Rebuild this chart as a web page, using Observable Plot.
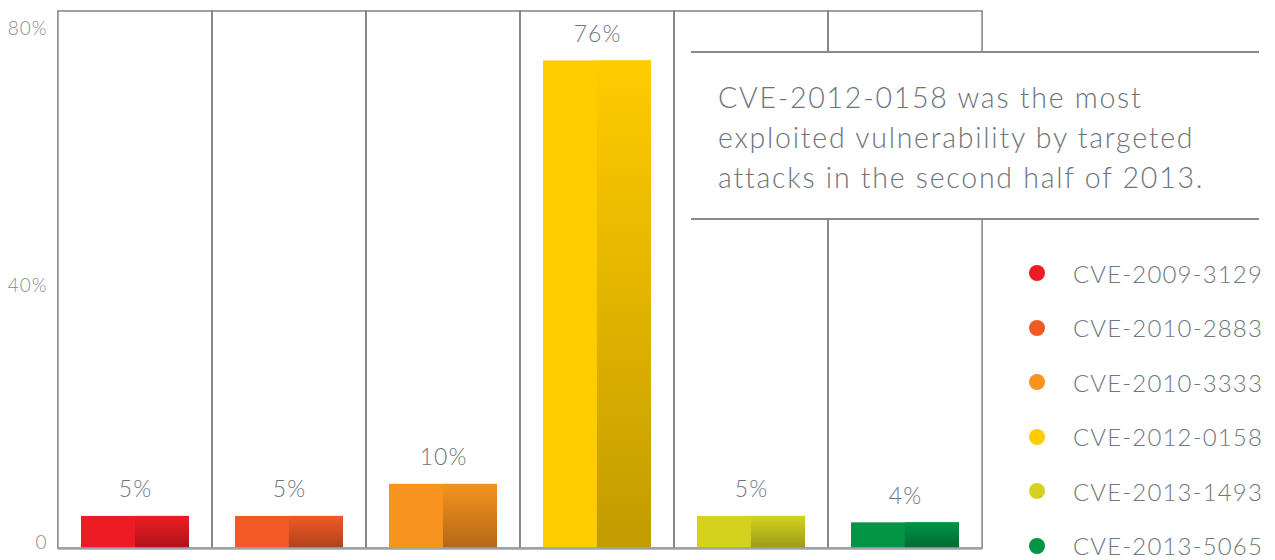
<!DOCTYPE html>
<html>
<head>
<meta charset="utf-8">
<script src="https://cdn.jsdelivr.net/npm/d3@7"></script>
<script src="https://cdn.jsdelivr.net/npm/@observablehq/plot@0.6"></script>
<style>
  html, body { margin: 0; padding: 0; background: #fff; }
  #wrap { position: relative; width: 1275px; height: 560px; font-family: Lato, "Open Sans", sans-serif; font-weight: 300; color: #6d747b; }
  #wrap svg text { letter-spacing: 1px; }
  #note { position: absolute; left: 691px; top: 51px; width: 568px; height: 169px; box-sizing: border-box;
          background: #fff; border-top: 2px solid #858b91; border-bottom: 2px solid #858b91;
          padding: 24px 0 0 27px; font-size: 28.5px; line-height: 40px; letter-spacing: 1.75px; color: #6d747b; white-space: nowrap; }
  #legend { position: absolute; left: 1029px; top: 246px; }
  .item { height: 54.5px; display: flex; align-items: center; font-size: 24px; letter-spacing: 1.15px; color: #6f777e; white-space: nowrap; }
  .dot { width: 16px; height: 16px; border-radius: 50%; margin-right: 28px; flex: none; }
</style>
</head>
<body>
<div id="wrap"></div>
<script>
// ---- data ----
const cves = ["CVE-2009-3129", "CVE-2010-2883", "CVE-2010-3333", "CVE-2012-0158", "CVE-2013-1493", "CVE-2013-5065"];
const values = [5, 5, 10, 76, 5, 4];
const baseColors = ["#ed1c24", "#f15a24", "#f7931e", "#ffcc00", "#d4d21f", "#009444"];
const darkColors = ["#ae121b", "#b1411c", "#b46718", "#c39b00", "#9c9a18", "#006a32"];
const yTicks = [0, 40, 80];
const yTickLabels = ["0", "40%", "80%"];
const noteText = ["CVE-2012-0158 was the most", "exploited vulnerability by targeted", "attacks in the second half of 2013."];

const data = cves.map((c, i) => ({cve: c, value: values[i], base: baseColors[i], grad: `url(#grad-${i})`}));

// ---- layout ----
const W = 1275, H = 560;
const mL = 58, mR = 293, mT = 11, mB = 12;
const yMax = 83.7;
const pIn = 0.3, pOut = 0.15;
const step = (W - mL - mR) / cves.length;
const bw = step * (1 - pIn);
const gap = (step - bw) / 2;
const lineColor = "#7d848b";
const textColor = "#6d747b";

const defs = () => {
  const d = d3.create("svg:defs");
  data.forEach((r, i) => {
    const g = d.append("linearGradient").attr("id", `grad-${i}`).attr("x1", 0).attr("y1", 0).attr("x2", 0).attr("y2", 1);
    g.append("stop").attr("offset", "0%").attr("stop-color", baseColors[i]);
    g.append("stop").attr("offset", "100%").attr("stop-color", darkColors[i]);
  });
  return d.node();
};

const chart = Plot.plot({
  width: W, height: H,
  marginLeft: mL, marginRight: mR, marginTop: mT, marginBottom: mB,
  style: {fontFamily: "Lato, 'Open Sans', sans-serif", background: "#fff"},
  x: {domain: cves, paddingInner: pIn, paddingOuter: pOut, axis: null},
  y: {domain: [0, yMax], axis: null},
  color: {type: "identity"},
  marks: [
    defs,
    // column frames
    Plot.barY(data, {x: "cve", y1: 0, y2: yMax, fill: "none", stroke: lineColor, strokeWidth: 1.5, insetLeft: -gap, insetRight: -gap}),
    // bars: flat left + gradient right
    Plot.barY(data, {x: "cve", y: "value", fill: "base"}),
    Plot.barY(data, {x: "cve", y: "value", fill: "grad", insetLeft: bw / 2}),
    // baseline
    Plot.ruleY([0], {stroke: "#9ea3a8", strokeWidth: 2.5}),
    // value labels
    Plot.text(data, {x: "cve", y: "value", text: d => `${d.value}%`, dy: -19, lineAnchor: "bottom", fontSize: 23, fontWeight: 300, fill: textColor}),
    // y axis labels
    Plot.axisY(yTicks, {label: null, tickSize: 0, tickPadding: 11, tickFormat: (d) => yTickLabels[yTicks.indexOf(d)], lineAnchor: "bottom", dy: 0, fontSize: 19, fontWeight: 300, fill: "#868c92"})
  ]
});

const wrap = document.getElementById("wrap");
wrap.appendChild(chart);

const note = document.createElement("div");
note.id = "note";
note.innerHTML = noteText.join("<br>");
wrap.appendChild(note);

const legend = document.createElement("div");
legend.id = "legend";
cves.forEach((c, i) => {
  const it = document.createElement("div");
  it.className = "item";
  it.innerHTML = `<span class="dot" style="background:${baseColors[i]}"></span><span>${c}</span>`;
  legend.appendChild(it);
});
wrap.appendChild(legend);
</script>
</body>
</html>
